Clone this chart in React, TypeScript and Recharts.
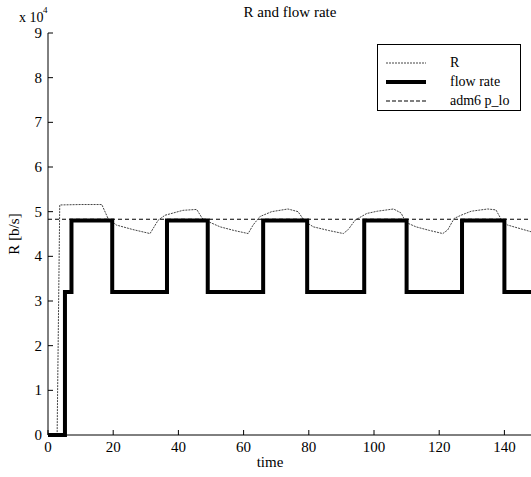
import React from "react";
import { LineChart, Line, XAxis, YAxis } from "recharts";

// time axis ticks and y ticks (y in units of 10^4 b/s)
const xTicks = [0, 20, 40, 60, 80, 100, 120, 140];
const yTicks = [0, 1, 2, 3, 4, 5, 6, 7, 8, 9];

// R [b/s] (dotted)
const rTimes = [
  0, 2.8, 3.6, 10, 16.5, 18.4, 21, 26, 31.3, 33.8, 35.9, 41.4, 45.6, 47.5, 52.8, 57, 61.4, 62.9, 65, 68.6,
  73.6, 76.7, 78.8, 81.4, 86, 90.6, 92.1, 94.2, 97.8, 101, 106, 108.3, 109.8, 112.9, 117, 121.1, 122.6,
  124.6, 126.7, 129.8, 134.9, 137.4, 139, 141, 148.2,
];
const rValues = [
  0, 0, 51500, 51600, 51600, 48500, 47000, 46000, 45100, 48100, 49200, 50300, 50500, 48300, 46600, 45800,
  45100, 47000, 48900, 50000, 50600, 50000, 47800, 46600, 45800, 45100, 46000, 48100, 49600, 50100, 50600,
  49700, 47600, 46600, 45800, 45100, 45900, 48500, 49200, 50100, 50600, 50400, 48300, 47000, 45500,
];

// flow rate (step)
const flowTimes = [0, 5.2, 7.2, 19.7, 36.5, 49, 66, 79.5, 97, 110, 127, 140, 150];
const flowValues = [0, 32000, 48000, 32000, 48000, 32000, 48000, 32000, 48000, 32000, 48000, 32000, 32000];

// adm6 p_lo (dashed)
const admTimes = [0, 150];
const admValues = [48300, 48300];

const legendNames = ["R", "flow rate", "adm6 p_lo"];

const rData = rTimes.map((t, i) => ({ t, v: rValues[i] }));
const flowData = flowTimes.map((t, i) => ({ t, v: flowValues[i] }));
const admData = admTimes.map((t, i) => ({ t, v: admValues[i] }));

const font = "Liberation Serif, DejaVu Serif, serif";

const XTick = (props: any) => {
  const { x, y, payload } = props;
  return (
    <g>
      <line x1={x} y1={y} x2={x} y2={y - 5} stroke="#000" strokeWidth={1} />
      <text x={x} y={y + 17} textAnchor="middle" fontSize={15} style={{ fontFamily: font }} fill="#000">
        {payload.value}
      </text>
    </g>
  );
};

const YTick = (props: any) => {
  const { x, y, payload } = props;
  return (
    <g>
      <line x1={x} y1={y} x2={x + 5} y2={y} stroke="#000" strokeWidth={1} />
      <text x={x - 6} y={y + 5} textAnchor="end" fontSize={15} style={{ fontFamily: font }} fill="#000">
        {Math.round(payload.value / 10000)}
      </text>
    </g>
  );
};

const LegendBox = () => {
  const styles = [
    { dash: "2 1", width: 1, color: "#444" },
    { dash: undefined, width: 4, color: "#000" },
    { dash: "4 2", width: 1.2, color: "#000" },
  ];
  return (
    <div
      style={{
        position: "absolute",
        left: 377,
        top: 44,
        border: "1px solid #000",
        background: "#fff",
        width: 144,
        height: 67,
        boxSizing: "border-box",
        paddingTop: 8,
        fontFamily: font,
        fontSize: 14,
        lineHeight: "19px",
      }}
    >
      {legendNames.map((name, i) => (
        <div key={name} style={{ display: "flex", alignItems: "center", height: 19 }}>
          <svg width={72} height={19} style={{ flex: "none" }}>
            <line
              x1={8}
              x2={48}
              y1={10}
              y2={10}
              stroke={styles[i].color}
              strokeWidth={styles[i].width}
              strokeDasharray={styles[i].dash}
            />
          </svg>
          <span>{name}</span>
        </div>
      ))}
    </div>
  );
};

export default function App() {
  return (
    <div
      style={{
        position: "absolute",
        left: 0,
        top: 0,
        width: 531,
        height: 477,
        overflow: "hidden",
        background: "#fff",
      }}
    >
      <LineChart width={545} height={477} margin={{ top: 33, right: 8, bottom: 0, left: 8 }}>
        <XAxis
          dataKey="t"
          type="number"
          domain={[0, 150]}
          ticks={xTicks}
          allowDataOverflow
          height={42}
          axisLine={{ stroke: "#000" }}
          tickLine={false}
          tickSize={0}
          tickMargin={0}
          tick={<XTick />}
          interval={0}
        />
        <YAxis
          type="number"
          domain={[0, 90000]}
          ticks={yTicks.map((v) => v * 10000)}
          width={40}
          axisLine={{ stroke: "#000" }}
          tickLine={false}
          tickSize={0}
          tickMargin={0}
          tick={<YTick />}
          interval={0}
        />
        <Line
          data={rData}
          dataKey="v"
          type="linear"
          stroke="#444"
          strokeWidth={1}
          strokeDasharray="2 1"
          dot={false}
          isAnimationActive={false}
        />
        <Line
          data={flowData}
          dataKey="v"
          type="stepAfter"
          stroke="#000"
          strokeWidth={4}
          dot={false}
          isAnimationActive={false}
        />
        <Line
          data={admData}
          dataKey="v"
          type="linear"
          stroke="#000"
          strokeWidth={1.2}
          strokeDasharray="4 3"
          dot={false}
          isAnimationActive={false}
        />
        <text x={290} y={17} textAnchor="middle" fontSize={15} style={{ fontFamily: font }} fill="#000">
          R and flow rate
        </text>
        <text x={19} y={22} fontSize={14} style={{ fontFamily: font }} fill="#000">
          x 10
        </text>
        <text x={43} y={13} fontSize={9} style={{ fontFamily: font }} fill="#000">
          4
        </text>
        <text
          x={0}
          y={0}
          transform="translate(19 234) rotate(-90)"
          textAnchor="middle"
          fontSize={15}
          style={{ fontFamily: font }}
          fill="#000"
        >
          R [b/s]
        </text>
        <text x={270} y={467} textAnchor="middle" fontSize={15} style={{ fontFamily: font }} fill="#000">
          time
        </text>
      </LineChart>
      <LegendBox />
    </div>
  );
}
